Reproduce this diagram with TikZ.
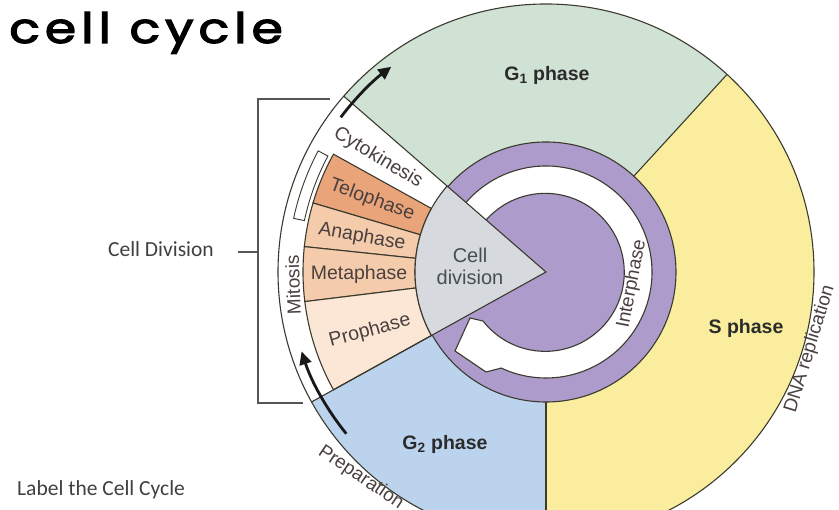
\documentclass[tikz,border=0pt]{standalone}
\usepackage{fontspec}
\setmainfont{Liberation Sans}
\newfontfamily\calibfont{Carlito}
\newfontfamily\titlefont{Poppins}[LetterSpace=10]
\usetikzlibrary{arrows.meta}
\definecolor{gC}{HTML}{D0E2D3}
\definecolor{sC}{HTML}{FAEE9E}
\definecolor{bC}{HTML}{BCD3EE}
\definecolor{pC}{HTML}{AD9BCC}
\definecolor{grC}{HTML}{D6DADF}
\definecolor{telC}{HTML}{E9A47A}
\definecolor{anaC}{HTML}{F4CCAB}
\definecolor{proC}{HTML}{FCE7D6}
\definecolor{lineC}{HTML}{3B3A2E}
\definecolor{txtC}{HTML}{2B2B2B}
\definecolor{phC}{HTML}{4A4040}
\definecolor{cdC}{HTML}{474D55}
\definecolor{brC}{HTML}{555555}
\newcommand\heavytext[1]{\special{pdf:literal 2 Tr 1.1 w}#1\special{pdf:literal 0 Tr}}
\begin{document}
\begin{tikzpicture}[x=1pt,y=1pt,
  outl/.style={draw=lineC, line width=1.1pt},
  annsec/.style n args={4}{insert path={(#1:#3) arc[start angle=#1,end angle=#2,radius=#3] -- (#2:#4) arc[start angle=#2,end angle=#1,radius=#4] -- cycle}},
  phasetxt/.style={font=\fontsize{19.5}{21}\selectfont, text=phC, inner sep=0pt},
  ringtxt/.style={font=\fontsize{19}{21}\selectfont, text=phC, inner sep=0pt},
  bigtxt/.style={font=\fontsize{19.5}{22}\selectfont\bfseries, text=txtC, inner sep=0pt},
  blackarrow/.style={line width=2.8pt, draw=black!90, -{Triangle[length=13pt,width=12pt]}},
  bracketline/.style={draw=brC, line width=1.2pt},
  calibtxt/.style={font=\calibfont\fontsize{21.5}{24}\selectfont, text=txtC!90, inner sep=0pt}]
\useasboundingbox (0,0) rectangle (839,510);
\clip (0,0) rectangle (839,510);
\coordinate (O) at (546,238);
\begin{scope}[shift={(O)}]
  % main sectors
  \fill[sC] (0,0) -- (-90:268pt) arc[start angle=-90,end angle=47.5,radius=268pt] -- cycle;
  \fill[gC] (0,0) -- (47.5:268pt) arc[start angle=47.5,end angle=139,radius=268pt] -- cycle;
  \fill[white] (0,0) -- (139:268pt) arc[start angle=139,end angle=209,radius=268pt] -- cycle;
  \fill[bC] (0,0) -- (209:268pt) arc[start angle=209,end angle=270,radius=268pt] -- cycle;
  % mitosis phases
  \path[fill=telC, outl, annsec={151}{163.5}{131pt}{243pt}];
  \path[fill=anaC, outl, annsec={163.5}{174}{131pt}{243pt}];
  \path[fill=anaC, outl, annsec={174}{187}{131pt}{243pt}];
  \path[fill=proC, outl, annsec={187}{209}{131pt}{243pt}];
  % bracket piece
  \path[fill=white, outl, line width=0.9pt, annsec={152}{168}{247pt}{258pt}];
  % outer circle and radial boundaries
  \draw[outl] (0,0) circle[radius=268pt];
  \draw[outl] (47.5:130pt) -- (47.5:268pt);
  \draw[outl] (270:130pt) -- (270:268pt);
  \draw[outl] (139:131pt) -- (139:268pt);
  \draw[outl] (209:131pt) -- (209:268pt);
  % black arrows
  \draw[blackarrow] (143:257pt) arc[start angle=143,end angle=127,radius=257pt];
  \draw[blackarrow] (219:257pt) arc[start angle=219,end angle=198,radius=257pt];
  % interphase disk
  \path[fill=pC, outl] (0,0) circle[radius=130pt];
  % white circular arrow
  \path[fill=white, outl] (145:106pt) arc[start angle=145,end angle=-115,radius=106pt]
     -- (-60,-100) -- (-91,-79) -- (-76,-46) -- (-63,-49)
     arc[start angle=-142,end angle=145,radius=79pt] -- cycle;
  % cell division sector
  \path[fill=grC, outl] (0,0) -- (139:131pt) arc[start angle=139,end angle=209,radius=131pt] -- cycle;
\end{scope}
% ring labels
\node[ringtxt, rotate=79] (inter) at (632,226) {Interphase};
\node[ringtxt, rotate=73] (dna) at (810,161) {DNA replication};
\node[ringtxt, rotate=-34, anchor=west] (prep) at (320,60) {Preparation};
\node[ringtxt, rotate=92] (mit) at (293,225) {Mitosis};
% phase labels
\node[phasetxt, rotate=-31] (cyto) at (378,352) {Cytokinesis};
\node[phasetxt, rotate=-20] (telo) at (372,310) {Telophase};
\node[phasetxt, rotate=-10] (ana) at (362,273) {Anaphase};
\node[phasetxt, rotate=0] (meta) at (359,236) {Metaphase};
\node[phasetxt, rotate=15] (pro) at (370,179) {Prophase};
\node[font=\fontsize{20}{23}\selectfont, text=cdC, align=center, inner sep=0pt] (celldiv) at (470,244) {Cell\\[-1pt]division};
% phase names
\node[bigtxt] (g1) at (547,435) {G\textsubscript{1} phase};
\node[bigtxt] (sph) at (746,182) {S phase};
\node[bigtxt] (g2) at (445,66) {G\textsubscript{2} phase};
% left bracket
\coordinate (bt1) at (330,411);
\coordinate (bt0) at (258,411);
\coordinate (bb0) at (258,107);
\coordinate (bb1) at (303,107);
\coordinate (bm0) at (238,258);
\coordinate (bm1) at (258,258);
\draw[bracketline] (bt1) -- (bt0) -- (bb0) -- (bb1);
\draw[bracketline] (bm0) -- (bm1);
\node[calibtxt, anchor=east] (cdlab) at (214,261) {Cell Division};
\node[calibtxt, anchor=west] (lab) at (17,20) {Label the Cell Cycle};
% title
\node[font=\titlefont\fontsize{42}{46}\selectfont, anchor=base west, xscale=1.2, inner sep=0pt, text=black] (title) at (9,467) {\heavytext{cell cycle}};
\end{tikzpicture}
\end{document}
